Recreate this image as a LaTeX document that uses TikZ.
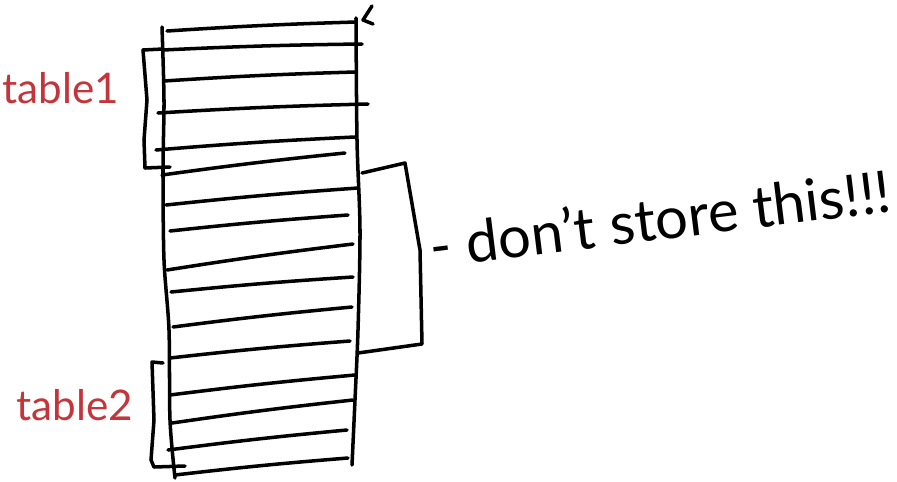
\documentclass[tikz,border=0pt]{standalone}
\usepackage{fontspec}
\setmainfont{Lato}
\definecolor{InkRed}{HTML}{C4353B}

\begin{document}
\begin{tikzpicture}[x=0.02cm,y=-0.02cm,
    pen/.style={line width=2pt,line cap=round,line join=round},
    tablename/.style={text=InkRed,font=\fontsize{24}{28}\selectfont,inner sep=0pt},
    note/.style={font=\fontsize{33}{38}\selectfont,inner sep=0pt,rotate=7}
  ]
  \useasboundingbox (0,0) rectangle (897,481);

  % rows of the stack
  \foreach \xl/\yl/\xr/\yr in {167/31/356/22, 163/50/362/44, 164/81/355/72,
      158/113/368/104, 156/150/355/137, 162/175/345/153, 166/205/358/188,
      170/231/348/215, 167/270/353/244, 171/292/353/277, 173/327/352/307,
      170/358/350/341, 170/395/355/375, 172/423/353/400, 168/450/347/430,
      175/475/348/458}
    \draw[pen] (\xl,\yl) to[bend left=1] (\xr,\yr);

  % side walls
  \draw[pen] plot[smooth] coordinates {(162,27) (164,100) (163,170) (164,260) (169,330) (170,420) (175,478)};
  \draw[pen] plot[smooth] coordinates {(356,18) (357,140) (360,230) (358,330) (355,400) (352,465)};
  \draw[pen] (372,6) -- (363,20) -- (373,24);

  % brackets
  \draw[pen] (163,49) -- (143,50) -- (147,100) -- (144,140) -- (145,168) -- (170,167);
  \draw[pen] (163,363) -- (152,362) -- (154,420) -- (151,460) -- (154,467) -- (185,466);
  \draw[pen] (362,173) -- (405,163) -- (420,250) -- (422,344) -- (358,353);

  \node[tablename] (table1) at (61,88) {table1};
  \node[tablename] (table2) at (75,405) {table2};
  \node[note,anchor=base west] (dontstore) at (432,268) {- don't store this!!!};
\end{tikzpicture}
\end{document}
